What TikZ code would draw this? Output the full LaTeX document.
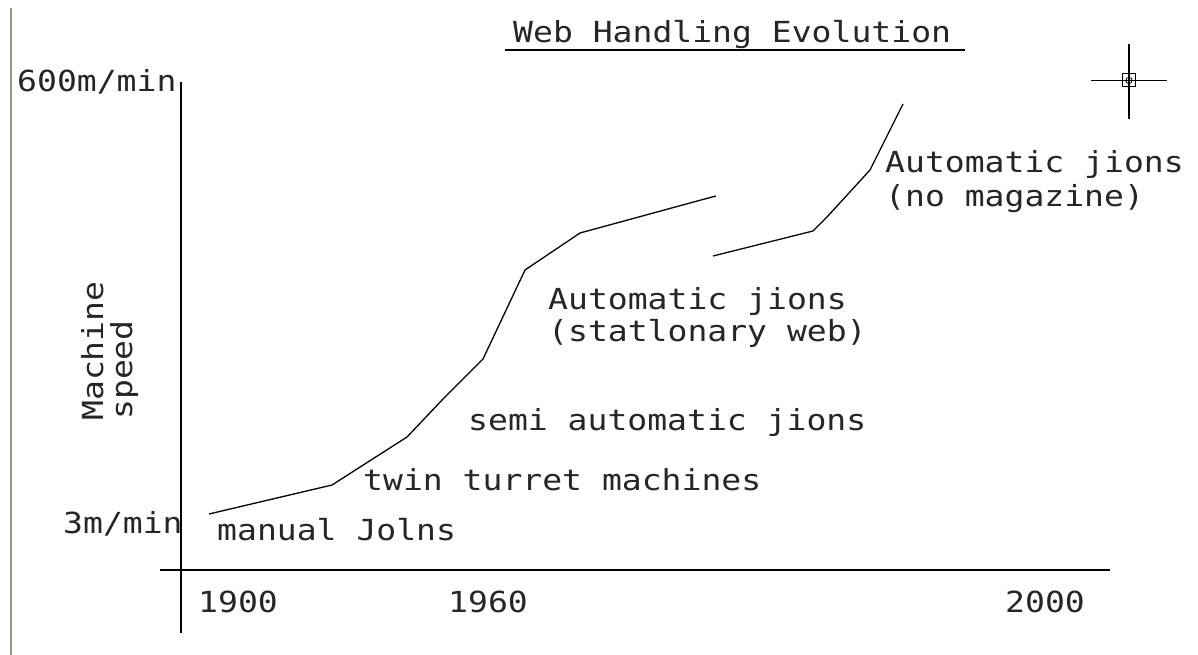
\documentclass[tikz,border=0pt]{standalone}
\usepackage{fontspec}
\setmainfont{DejaVu Sans Mono}[FakeStretch=1.14]
\definecolor{bordergray}{RGB}{150,150,140}
\begin{document}
\begin{tikzpicture}[x=1pt,y=-1pt,
  lbl/.style={anchor=base west, inner sep=0pt, font=\fontsize{29}{34}\selectfont, text=black!85},
  axisline/.style={line width=1.6pt},
  curveline/.style={line width=1.3pt, line join=round},
  thinline/.style={line width=1.3pt}]
\useasboundingbox (0,0) rectangle (1198,655);
\fill[white] (0,0) rectangle (1198,655);
% left border
\coordinate (bt) at (11,8);
\coordinate (bb) at (11,655);
\draw[bordergray, line width=2.5pt] (bt) -- (bb);
% axes
\coordinate (ytop) at (181,82);
\coordinate (ybot) at (181,633);
\coordinate (xl) at (160,570);
\coordinate (xr) at (1110,570);
\draw[axisline] (ytop) -- (ybot);
\draw[axisline] (xl) -- (xr);
% title
\node[lbl] (title) at (513,43) {Web Handling Evolution};
\coordinate (ul) at (505,50);
\coordinate (ur) at (965,50);
\draw[thinline] (ul) -- (ur);
% crosshair
\coordinate (cc) at (1129,80.5);
\coordinate (chl) at (1091,80.5);
\coordinate (chr) at (1167,80.5);
\coordinate (cht) at (1129,44);
\coordinate (chb) at (1129,119);
\draw[thinline] (chl) -- (chr);
\draw[thinline] (cht) -- (chb);
\draw[line width=1pt] ([shift={(-6.5,-6.5)}]cc) rectangle ([shift={(6.5,6.5)}]cc);
\draw[line width=0.8pt] (cc) circle (3.2);
% axis labels
\node[lbl] (ymax) at (17,92) {600m/min};
\node[lbl] (ymin) at (63,533) {3m/min};
\node[lbl, rotate=90] (ylab1) at (103,421) {Machine};
\node[lbl, rotate=90] (ylab2) at (132,420) {speed};
\node[lbl] (x1900) at (198,612) {1900};
\node[lbl] (x1960) at (448,612) {1960};
\node[lbl] (x2000) at (1005,612) {2000};
% curve 1
\coordinate (p1) at (209,514);
\coordinate (p2) at (332,485);
\coordinate (p3) at (407,437);
\coordinate (p4) at (444,398);
\coordinate (p5) at (483,359);
\coordinate (p6) at (525,270);
\coordinate (p7) at (580,233);
\coordinate (p8) at (701,200);
\coordinate (p9) at (716,196);
\draw[curveline] (p1) -- (p2) -- (p3) -- (p4) -- (p5) -- (p6) -- (p7) -- (p8) -- (p9);
% curve 2
\coordinate (q1) at (713,256);
\coordinate (q2) at (813,231);
\coordinate (q3) at (827,217);
\coordinate (q4) at (870,170);
\coordinate (q5) at (903,104);
\draw[curveline] (q1) -- (q2) -- (q3) -- (q4) -- (q5);
% stage labels
\node[lbl] (manual) at (217,540) {manual Jolns};
\node[lbl] (twin) at (363,490) {twin turret machines};
\node[lbl] (semi) at (468,430) {semi automatic jions};
\node[lbl] (auto1a) at (548,309) {Automatic jions};
\node[lbl] (auto1b) at (548,341) {(statlonary web)};
\node[lbl] (auto2a) at (885,173) {Automatic jions};
\node[lbl] (auto2b) at (885,206) {(no magazine)};
\end{tikzpicture}
\end{document}
